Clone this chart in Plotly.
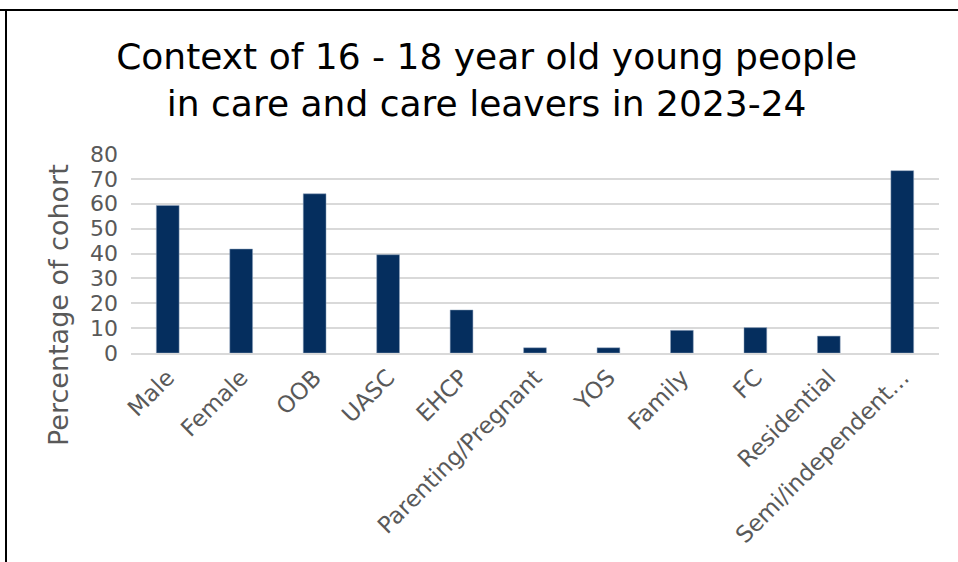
import plotly.graph_objects as go

categories = ["Male", "Female", "OOB", "UASC", "EHCP", "Parenting/Pregnant",
              "YOS", "Family", "FC", "Residential", "Semi/independent…"]
values = [59.3, 41.8, 64.0, 39.5, 17.3, 2.1, 2.1, 9.1, 10.2, 6.8, 73.3]
y_ticks = [0, 10, 20, 30, 40, 50, 60, 70, 80]

FONT = "DejaVu Sans"
GREY = "#595959"

fig = go.Figure(go.Bar(
    x=categories, y=values,
    marker=dict(color="#052e5e", line=dict(color="#8fa3bd", width=0.5)),
    width=0.31,
))

fig.update_layout(
    width=958, height=562,
    margin=dict(l=131, r=19, t=154, b=209),
    paper_bgcolor="white", plot_bgcolor="white",
    showlegend=False,
    title=dict(
        text="Context of 16 - 18 year old young people<br>in care and care leavers in 2023-24",
        font=dict(family=FONT, size=36, color="#000000"),
        xref="container", x=0.508, xanchor="center",
        yref="container", y=1 - 69 / 562, yanchor="middle",
    ),
    font=dict(family=FONT, color=GREY),
    shapes=[
        dict(type="line", xref="paper", yref="paper",
             x0=-131 / 808, x1=(958 + 10 - 131) / 808,
             y0=(562 - 10 - 209) / 199, y1=(562 - 10 - 209) / 199,
             line=dict(color="black", width=2)),
        dict(type="line", xref="paper", yref="paper",
             x0=(6 - 131) / 808, x1=(6 - 131) / 808,
             y0=(562 - 10 - 209) / 199, y1=-220 / 199,
             line=dict(color="black", width=2)),
    ],
    annotations=[
        dict(text="Percentage of cohort", textangle=-90,
             xref="paper", yref="paper",
             x=(58 - 131) / 808, y=(562 - 305 - 209) / 199,
             xanchor="center", yanchor="middle", showarrow=False,
             font=dict(family=FONT, size=27, color=GREY)),
    ],
)

fig.update_xaxes(
    tickangle=-45, tickfont=dict(family=FONT, size=23, color=GREY),
    showgrid=False, showline=True, linecolor="#d9d9d9", linewidth=2,
    ticks="", range=[-0.5, len(categories) - 0.5],
)
fig.update_yaxes(
    range=[0, 80], tickvals=y_ticks,
    tickfont=dict(family=FONT, size=22, color=GREY),
    showgrid=True, gridcolor="#d9d9d9", gridwidth=2,
    zeroline=False, showline=False, ticks="", ticklabelstandoff=12,
)

fig.write_html("out.html")
